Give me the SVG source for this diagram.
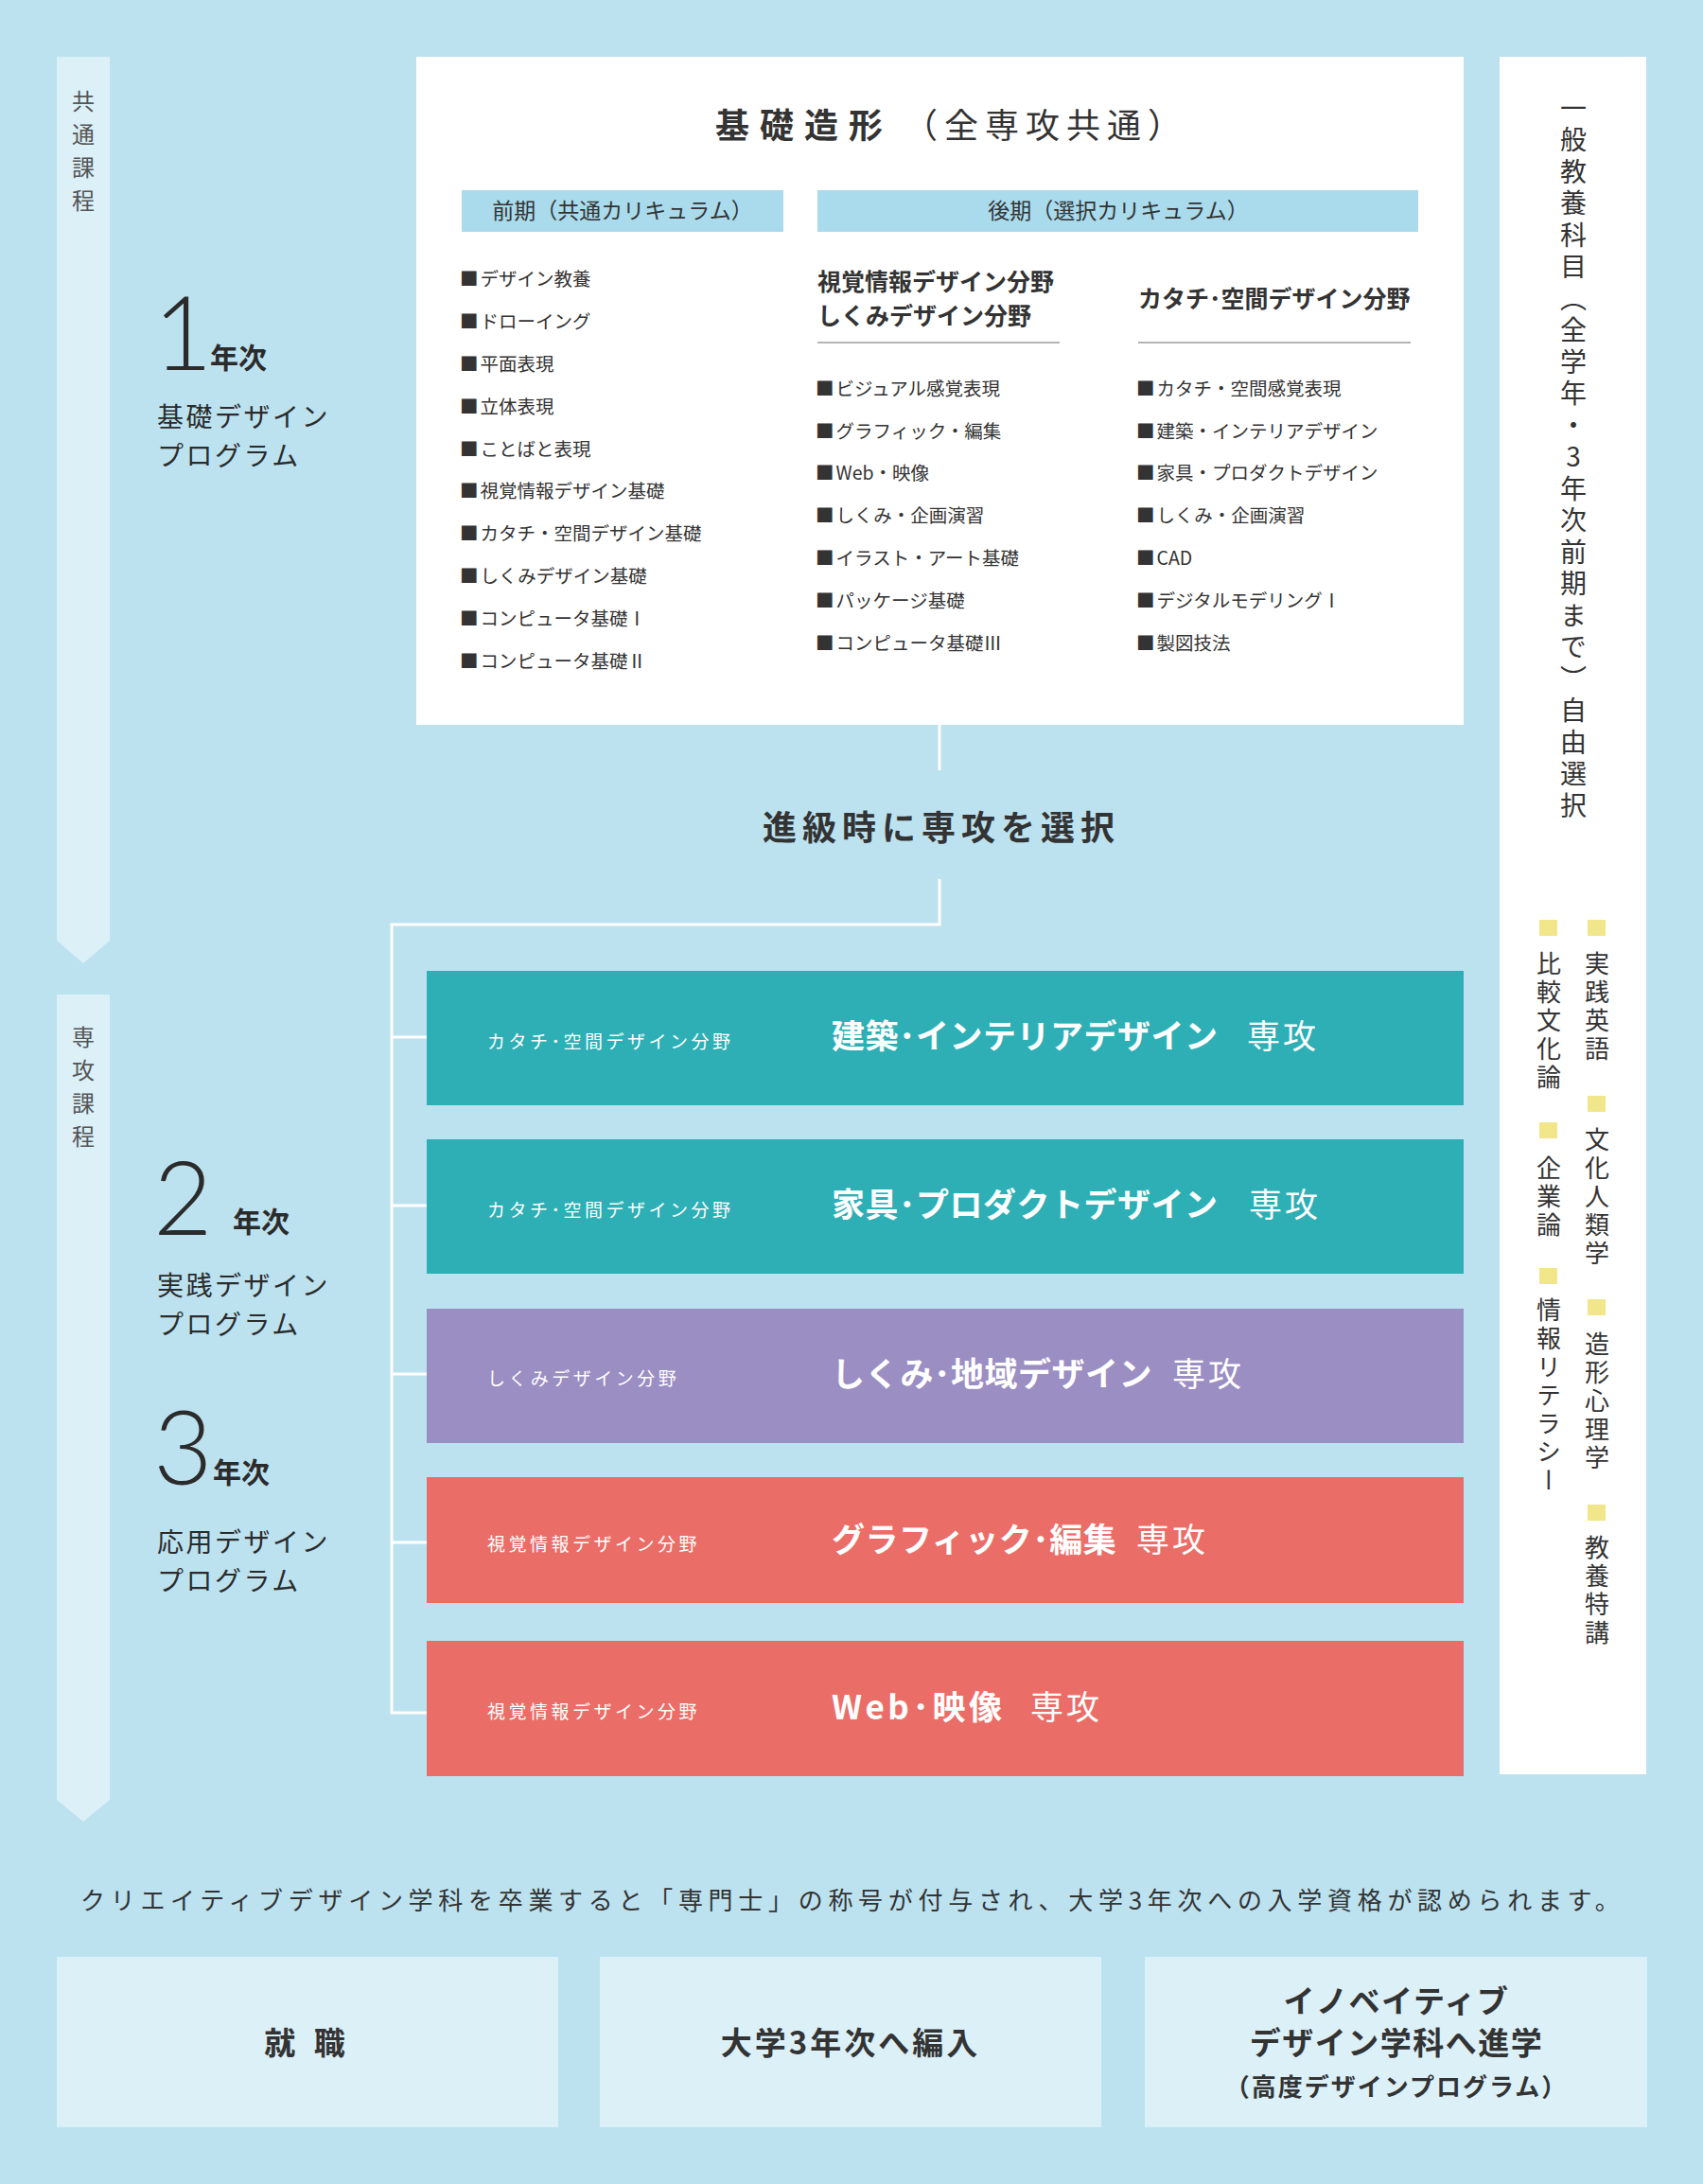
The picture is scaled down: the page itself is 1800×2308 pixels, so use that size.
<svg xmlns="http://www.w3.org/2000/svg" width="1800" height="2308" viewBox="0 0 1800 2308">
<style>
text{font-family:"Noto Sans CJK JP","Noto Sans",sans-serif;}
.dk{fill:#333333;}
.item{font-size:19.5px;fill:#333333;}
.hdr{font-size:23px;fill:#333333;text-anchor:middle;}
.colh{font-size:25px;font-weight:700;fill:#333333;}
.num{font-family:Lato,"Open Sans",sans-serif;font-weight:300;font-size:108px;fill:#2b2b2b;}
.nen{font-size:30px;font-weight:700;fill:#2b2b2b;}
.prog{font-size:28px;fill:#2b2b2b;letter-spacing:2.5px;}
.vbar{font-size:24px;fill:#555555;writing-mode:vertical-rl;text-orientation:upright;letter-spacing:11px;}
.field{font-size:19px;fill:#ffffff;letter-spacing:3.5px;}
.major{font-size:35px;fill:#ffffff;font-weight:700;letter-spacing:0.5px;}
.senkou{font-weight:400;letter-spacing:3px;}
.elect{font-size:26px;fill:#333333;writing-mode:vertical-rl;text-orientation:upright;letter-spacing:4px;}
.sq{fill:#F2E68A;}
.bar{fill:#DCF0F8;}
.hbar{fill:#A9DBEC;}
.uline{stroke:#b4b4b4;stroke-width:2;fill:none;}
.conn{stroke:#ffffff;stroke-width:3;fill:none;}
.teal{fill:#2DAFB5;}
.purple{fill:#9B8EC3;}
.coral{fill:#EB6D67;}
.outbox{fill:#DCF0F8;}
.out{font-size:33px;font-weight:700;fill:#333333;text-anchor:middle;}
</style>
<rect x="0" y="0" width="1800" height="2308" fill="#BCE2F0"/>

<g id="bar-common">
<polygon class="bar" points="60,60 116,60 116,994 88,1018 60,994"/>
<text class="vbar" x="88" y="95">共通課程</text>
</g>
<g id="bar-major">
<polygon class="bar" points="60,1051 116,1051 116,1902 88,1925 60,1902"/>
<text class="vbar" x="88" y="1084">専攻課程</text>
</g>

<g id="year1">
<text class="num" x="162" y="391">1</text>
<text class="nen" x="222" y="389">年次</text>
<text class="prog"><tspan x="166" y="451">基礎デザイン</tspan><tspan x="166" y="492">プログラム</tspan></text>
</g>
<g id="year2">
<text class="num" x="162" y="1305">2</text>
<text class="nen" x="246" y="1302">年次</text>
<text class="prog"><tspan x="166" y="1369">実践デザイン</tspan><tspan x="166" y="1410">プログラム</tspan></text>
</g>
<g id="year3">
<text class="num" x="162" y="1569">3</text>
<text class="nen" x="225" y="1567">年次</text>
<text class="prog"><tspan x="166" y="1640">応用デザイン</tspan><tspan x="166" y="1681">プログラム</tspan></text>
</g>

<g id="kiso">
<rect x="440" y="60" width="1107" height="706" fill="#ffffff"/>
<text y="146" class="dk" font-size="36"><tspan x="756" font-weight="700" letter-spacing="11">基礎造形</tspan><tspan x="955" letter-spacing="7">（全専攻共通）</tspan></text>
<rect class="hbar" x="488" y="201" width="340" height="44"/>
<text class="hdr" x="658" y="231">前期（共通カリキュラム）</text>
<rect class="hbar" x="864" y="201" width="635" height="44"/>
<text class="hdr" x="1182" y="231">後期（選択カリキュラム）</text>

<text class="item" x="486" y="302">■<tspan dx="2">デザイン教養</tspan></text>
<text class="item" x="486" y="347">■<tspan dx="2">ドローイング</tspan></text>
<text class="item" x="486" y="392">■<tspan dx="2">平面表現</tspan></text>
<text class="item" x="486" y="437">■<tspan dx="2">立体表現</tspan></text>
<text class="item" x="486" y="482">■<tspan dx="2">ことばと表現</tspan></text>
<text class="item" x="486" y="526">■<tspan dx="2">視覚情報デザイン基礎</tspan></text>
<text class="item" x="486" y="571">■<tspan dx="2">カタチ・空間デザイン基礎</tspan></text>
<text class="item" x="486" y="616">■<tspan dx="2">しくみデザイン基礎</tspan></text>
<text class="item" x="486" y="661">■<tspan dx="2">コンピュータ基礎Ⅰ</tspan></text>
<text class="item" x="486" y="706">■<tspan dx="2">コンピュータ基礎Ⅱ</tspan></text>

<text class="colh"><tspan x="864" y="307">視覚情報デザイン分野</tspan><tspan x="864" y="343">しくみデザイン分野</tspan></text>
<line class="uline" x1="864" y1="362" x2="1120" y2="362"/>
<text class="item" x="862" y="418">■<tspan dx="2">ビジュアル感覚表現</tspan></text>
<text class="item" x="862" y="463">■<tspan dx="2">グラフィック・編集</tspan></text>
<text class="item" x="862" y="507">■<tspan dx="2">Web・映像</tspan></text>
<text class="item" x="862" y="552">■<tspan dx="2">しくみ・企画演習</tspan></text>
<text class="item" x="862" y="597">■<tspan dx="2">イラスト・アート基礎</tspan></text>
<text class="item" x="862" y="642">■<tspan dx="2">パッケージ基礎</tspan></text>
<text class="item" x="862" y="687">■<tspan dx="2">コンピュータ基礎Ⅲ</tspan></text>

<text class="colh" x="1203" y="325">カタチ･空間デザイン分野</text>
<line class="uline" x1="1203" y1="362" x2="1491" y2="362"/>
<text class="item" x="1201" y="418">■<tspan dx="2">カタチ・空間感覚表現</tspan></text>
<text class="item" x="1201" y="463">■<tspan dx="2">建築・インテリアデザイン</tspan></text>
<text class="item" x="1201" y="507">■<tspan dx="2">家具・プロダクトデザイン</tspan></text>
<text class="item" x="1201" y="552">■<tspan dx="2">しくみ・企画演習</tspan></text>
<text class="item" x="1201" y="597">■<tspan dx="2">CAD</tspan></text>
<text class="item" x="1201" y="642">■<tspan dx="2">デジタルモデリングⅠ</tspan></text>
<text class="item" x="1201" y="687">■<tspan dx="2">製図技法</tspan></text>
</g>

<g id="connectors">
<line class="conn" x1="993" y1="766" x2="993" y2="814"/>
<path class="conn" d="M993,929 V977 H414 V1810 H451"/>
<line class="conn" x1="414" y1="1096" x2="451" y2="1096"/>
<line class="conn" x1="414" y1="1274" x2="451" y2="1274"/>
<line class="conn" x1="414" y1="1452" x2="451" y2="1452"/>
<line class="conn" x1="414" y1="1630" x2="451" y2="1630"/>
</g>

<g id="select-label">
<text class="dk" x="806" y="888" font-size="36" font-weight="700" letter-spacing="6">進級時に専攻を選択</text>
</g>

<g id="major-kenchiku">
<rect class="teal" x="451" y="1026" width="1096" height="142"/>
<text class="field" x="515" y="1108">カタチ･空間デザイン分野</text>
<text class="major" y="1108"><tspan x="879">建築･インテリアデザイン</tspan><tspan class="senkou" x="1318">専攻</tspan></text>
</g>
<g id="major-kagu">
<rect class="teal" x="451" y="1204" width="1096" height="142"/>
<text class="field" x="515" y="1286">カタチ･空間デザイン分野</text>
<text class="major" y="1286"><tspan x="879">家具･プロダクトデザイン</tspan><tspan class="senkou" x="1320">専攻</tspan></text>
</g>
<g id="major-shikumi">
<rect class="purple" x="451" y="1383" width="1096" height="142"/>
<text class="field" x="515" y="1464" letter-spacing="3">しくみデザイン分野</text>
<text class="major" y="1465"><tspan x="879">しくみ･地域デザイン</tspan><tspan class="senkou" x="1239">専攻</tspan></text>
</g>
<g id="major-graphic">
<rect class="coral" x="451" y="1561" width="1096" height="133"/>
<text class="field" x="515" y="1639" letter-spacing="4.3">視覚情報デザイン分野</text>
<text class="major" y="1640"><tspan x="879">グラフィック･編集</tspan><tspan class="senkou" x="1201">専攻</tspan></text>
</g>
<g id="major-web">
<rect class="coral" x="451" y="1734" width="1096" height="143"/>
<text class="field" x="515" y="1816" letter-spacing="4.3">視覚情報デザイン分野</text>
<text class="major" y="1817"><tspan x="879" letter-spacing="3.5">Web･映像</tspan><tspan class="senkou" x="1089">専攻</tspan></text>
</g>

<g id="general">
<rect x="1585" y="60" width="155" height="1815" fill="#ffffff"/>
<text class="dk" x="1663" y="100" font-size="28" letter-spacing="5.5" style="writing-mode:vertical-rl;text-orientation:upright;">一般教養科目（全学年・3年次前期まで）自由選択</text>
<rect class="sq" x="1678" y="972" width="19" height="17"/>
<text class="elect" x="1688" y="1005">実践英語</text>
<rect class="sq" x="1678" y="1158" width="19" height="17"/>
<text class="elect" x="1688" y="1191">文化人類学</text>
<rect class="sq" x="1678" y="1373" width="19" height="17"/>
<text class="elect" x="1688" y="1407">造形心理学</text>
<rect class="sq" x="1678" y="1590" width="19" height="17"/>
<text class="elect" x="1688" y="1622">教養特講</text>
<rect class="sq" x="1627" y="972" width="19" height="17"/>
<text class="elect" x="1637" y="1005">比較文化論</text>
<rect class="sq" x="1627" y="1186" width="19" height="17"/>
<text class="elect" x="1637" y="1221">企業論</text>
<rect class="sq" x="1627" y="1340" width="19" height="17"/>
<text class="elect" x="1637" y="1371">情報リテラシー</text>
</g>

<g id="statement">
<text class="dk" x="85" y="2018" font-size="26" letter-spacing="5.7">クリエイティブデザイン学科を卒業すると「専門士」の称号が付与され、大学3年次への入学資格が認められます。</text>
</g>

<g id="out-job">
<rect class="outbox" x="60" y="2068" width="530" height="180"/>
<text class="out" x="325" y="2171" letter-spacing="6">就 職</text>
</g>
<g id="out-transfer">
<rect class="outbox" x="634" y="2068" width="530" height="180"/>
<text class="out" x="899" y="2171" letter-spacing="3">大学3年次へ編入</text>
</g>
<g id="out-innov">
<rect class="outbox" x="1210" y="2068" width="531" height="180"/>
<text class="out" letter-spacing="1.5"><tspan x="1476" y="2127">イノベイティブ</tspan><tspan x="1476" y="2171">デザイン学科へ進学</tspan><tspan x="1476" y="2215" font-size="26" letter-spacing="2">（高度デザインプログラム）</tspan></text>
</g>
</svg>
